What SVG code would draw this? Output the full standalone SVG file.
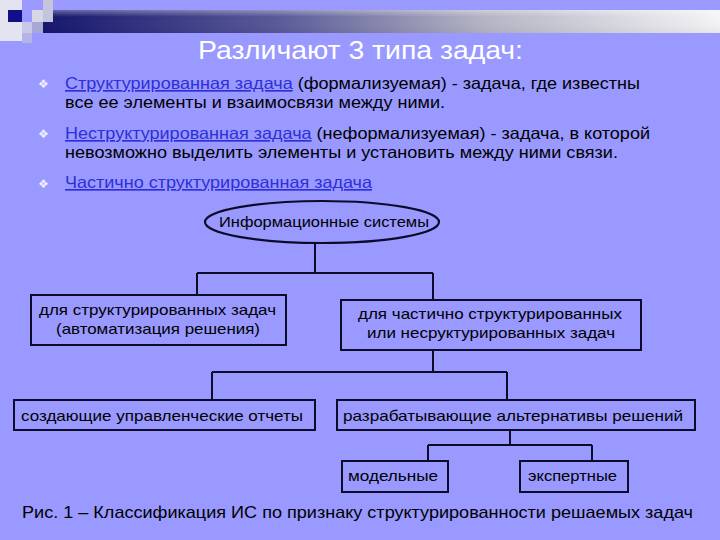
<svg xmlns="http://www.w3.org/2000/svg" width="720" height="540" viewBox="0 0 720 540">
<defs>
<linearGradient id="bar" x1="0" y1="0" x2="1" y2="0">
<stop offset="0" stop-color="#15156e"/>
<stop offset="0.35" stop-color="#5a5a9a"/>
<stop offset="0.65" stop-color="#b4b4c4"/>
<stop offset="1" stop-color="#f4f4f6"/>
</linearGradient>
<linearGradient id="barv" x1="0" y1="0" x2="0" y2="1">
<stop offset="0" stop-color="#ffffff" stop-opacity="0.35"/>
<stop offset="0.3" stop-color="#ffffff" stop-opacity="0"/>
<stop offset="1" stop-color="#000000" stop-opacity="0.05"/>
</linearGradient>
</defs>
<style>
text{font-family:"Liberation Sans",Arial,sans-serif;fill:#000}
.title{font-size:25px;fill:#fff}
.body{font-size:16.5px}
.link{fill:#2f2fd8;text-decoration:underline}
.bul{font-family:"DejaVu Sans",sans-serif;font-size:12px;fill:#eeeeff}
.node{font-size:15px}
.box{fill:none;stroke:#0c0c2a;stroke-width:2}
.conn{fill:none;stroke:#0c0c2a;stroke-width:2}
.cap{font-size:17px}
</style>
<rect width="720" height="540" fill="#9999ff"/>
<g id="decor">
<rect x="43" y="10" width="677" height="23" fill="url(#bar)"/>
<rect x="43" y="10" width="677" height="23" fill="url(#barv)"/>
<rect x="0" y="0" width="22" height="41" fill="#e4e4f0"/>
<rect x="8" y="10" width="14" height="12" fill="#10108a"/>
<rect x="22" y="22" width="10" height="11" fill="#c8c8e8"/>
<rect x="22" y="33" width="10" height="10" fill="#b4b4e6"/>
<rect x="32" y="10" width="11" height="12" fill="#d8d8e4"/>
<rect x="32" y="22" width="11" height="11" fill="#a8a8d4"/>
<rect x="43" y="0" width="10" height="22" fill="#c4c4dc"/>
</g>
<text class="title" x="198" y="59" textLength="325" lengthAdjust="spacingAndGlyphs">Различают 3 типа задач:</text>
<g id="bullets">
<text class="bul" x="38" y="88">❖</text>
<text class="bul" x="38" y="138">❖</text>
<text class="bul" x="38" y="188">❖</text>
<text class="body" x="65" y="89" textLength="575" lengthAdjust="spacingAndGlyphs"><tspan class="link">Структурированная задача</tspan> (формализуемая) - задача, где известны</text>
<text class="body" x="65" y="108" textLength="380" lengthAdjust="spacingAndGlyphs">все ее элементы и взаимосвязи между ними.</text>
<text class="body" x="65" y="139" textLength="585" lengthAdjust="spacingAndGlyphs"><tspan class="link">Неструктурированная задача</tspan> (неформализуемая) - задача, в которой</text>
<text class="body" x="65" y="158" textLength="553" lengthAdjust="spacingAndGlyphs">невозможно выделить элементы и установить между ними связи.</text>
<text class="body" x="65" y="188" textLength="307" lengthAdjust="spacingAndGlyphs"><tspan class="link">Частично структурированная задача</tspan></text>
</g>
<g id="connectors">
<path class="conn" d="M315 243 V273 M197 273 H433 M197 273 V295 M433 273 V300"/>
<path class="conn" d="M433 350 V372 M212 372 H507 M212 372 V400 M507 372 V400"/>
<path class="conn" d="M510 430 V445 M428 445 H592 M428 445 V461 M592 445 V461"/>
</g>
<g id="n-is">
<ellipse cx="322" cy="222" rx="117" ry="21" fill="none" stroke="#0c0c2a" stroke-width="2.2"/>
<text class="node" x="219" y="227" textLength="210" lengthAdjust="spacingAndGlyphs">Информационные системы</text>
</g>
<g id="n-struct">
<rect class="box" x="31" y="295" width="255" height="50"/>
<text class="node" x="39" y="315" textLength="237" lengthAdjust="spacingAndGlyphs">для структурированных задач</text>
<text class="node" x="56" y="334" textLength="204" lengthAdjust="spacingAndGlyphs">(автоматизация решения)</text>
</g>
<g id="n-partial">
<rect class="box" x="341" y="300" width="300" height="50"/>
<text class="node" x="358" y="319" textLength="264" lengthAdjust="spacingAndGlyphs">для частично структурированных</text>
<text class="node" x="367" y="338" textLength="248" lengthAdjust="spacingAndGlyphs">или несруктурированных задач</text>
</g>
<g id="n-reports">
<rect class="box" x="14" y="400" width="301" height="30"/>
<text class="node" x="21" y="421" textLength="282" lengthAdjust="spacingAndGlyphs">создающие управленческие отчеты</text>
</g>
<g id="n-alt">
<rect class="box" x="337" y="400" width="358" height="30"/>
<text class="node" x="343" y="421" textLength="340" lengthAdjust="spacingAndGlyphs">разрабатывающие альтернативы решений</text>
</g>
<g id="n-model">
<rect class="box" x="342" y="461" width="106" height="31"/>
<text class="node" x="348" y="481" textLength="90" lengthAdjust="spacingAndGlyphs">модельные</text>
</g>
<g id="n-expert">
<rect class="box" x="520" y="461" width="108" height="31"/>
<text class="node" x="528" y="481" textLength="89" lengthAdjust="spacingAndGlyphs">экспертные</text>
</g>
<text class="cap" x="22" y="518" textLength="671" lengthAdjust="spacingAndGlyphs">Рис. 1 – Классификация ИС по признаку структурированности решаемых задач</text>
</svg>
